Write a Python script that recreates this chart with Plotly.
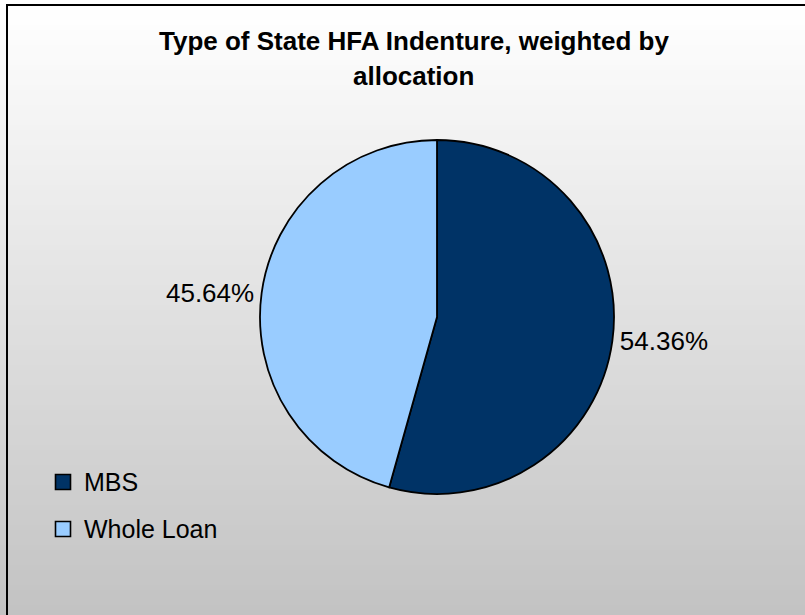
import plotly.graph_objects as go

# ---- data ----
categories = ["MBS", "Whole Loan"]
shares = [54.36, 45.64]
slice_colors = ["#003366", "#99CCFF"]
title_lines = ["Type of State HFA Indenture, weighted by", "allocation"]

W, H = 805, 615
FONT = "Arial, Liberation Sans, sans-serif"


def px_x(x):
    return x / W


def px_y(y):
    return 1 - y / H


fig = go.Figure()

fig.add_trace(go.Pie(
    labels=categories,
    values=shares,
    marker=dict(colors=slice_colors, line=dict(color="#000000", width=1.8)),
    sort=False,
    direction="clockwise",
    rotation=0,
    textposition="outside",
    texttemplate="%{percent:.2%}",
    textfont=dict(family=FONT, size=26, color="#000000"),
    showlegend=False,
    hoverinfo="label+percent",
    domain=dict(x=[px_x(437 - 177), px_x(437 + 177)],
                y=[px_y(317 + 177), px_y(317 - 177)]),
))

shapes = []
# vertical gradient background (white -> gray)
step = 5
for y in range(0, H + step, step):
    g = int(round(255 - max(0, y - 5) * 0.1))
    g = max(0, min(255, g))
    shapes.append(dict(type="rect", xref="paper", yref="paper",
                       x0=0, x1=1, y0=px_y(y + step + 1), y1=px_y(y),
                       fillcolor=f"rgb({g},{g},{g})", line=dict(width=0),
                       layer="below"))
# chart frame (only top and left edge visible)
shapes.append(dict(type="rect", xref="paper", yref="paper",
                   x0=px_x(7), x1=1.05, y0=-0.05, y1=px_y(5),
                   line=dict(color="#000000", width=2), fillcolor="rgba(0,0,0,0)",
                   layer="below"))

annotations = []
# title
for i, (line, yc) in enumerate(zip(title_lines, [41, 76])):
    annotations.append(dict(text=f"<b>{line}</b>", xref="paper", yref="paper",
                            x=px_x(414), y=px_y(yc), xanchor="center", yanchor="middle",
                            showarrow=False,
                            font=dict(family=FONT, size=26, color="#000000")))

# manual legend
for i, (name, col) in enumerate(zip(categories, slice_colors)):
    yc = 482 + i * 47
    shapes.append(dict(type="rect", xref="paper", yref="paper",
                       x0=px_x(55.5), x1=px_x(70.5), y0=px_y(yc + 7.5), y1=px_y(yc - 7.5),
                       fillcolor=col, line=dict(color="#000000", width=1.6)))
    annotations.append(dict(text=name, xref="paper", yref="paper",
                            x=px_x(82), y=px_y(yc), xanchor="left", yanchor="middle",
                            showarrow=False,
                            font=dict(family=FONT, size=25, color="#000000")))

fig.update_layout(
    width=W, height=H,
    margin=dict(l=0, r=0, t=0, b=0),
    paper_bgcolor="#ffffff",
    plot_bgcolor="rgba(0,0,0,0)",
    shapes=shapes,
    annotations=annotations,
    showlegend=False,
)

fig.write_html("out.html")
